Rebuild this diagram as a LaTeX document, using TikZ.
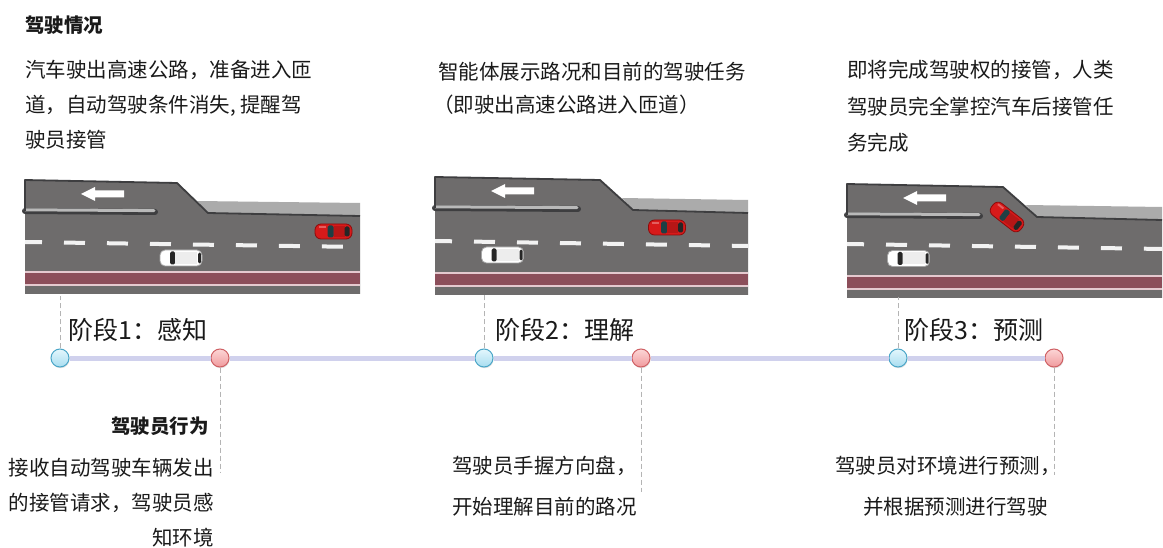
\documentclass[tikz,border=0pt]{standalone}
\usepackage{fontspec}
\setmainfont{Noto Sans CJK SC}
\usetikzlibrary{shadows}

\definecolor{roadgray}{HTML}{6E6C6C}
\definecolor{rampedge}{HTML}{3E3E40}
\definecolor{shoulder}{HTML}{ABABAB}
\definecolor{maroonband}{HTML}{8C4E5A}
\definecolor{pinkline}{HTML}{E5C9CF}
\definecolor{lanewhite}{HTML}{F2F2F2}
\definecolor{goregray}{HTML}{B9B9B9}
\definecolor{carred}{HTML}{D71A1A}
\definecolor{carreddark}{HTML}{8E0A0A}
\definecolor{glass}{HTML}{1E3F44}
\definecolor{tlcolor}{HTML}{D0D1ED}
\definecolor{bluering}{HTML}{4AA6C8}
\definecolor{bluetop}{HTML}{E4F7FD}
\definecolor{bluebot}{HTML}{A8DDF0}
\definecolor{redring}{HTML}{CF6064}
\definecolor{redtop}{HTML}{FCD6D6}
\definecolor{redbot}{HTML}{F09A9D}
\definecolor{guide}{HTML}{B4B4B4}
\definecolor{textcol}{HTML}{1A1A1A}

\newcommand\txtbody{\fontsize{20.5pt}{24pt}\selectfont}
\newcommand\txtbold{\fontsize{19.5pt}{24pt}\selectfont\bfseries}
\newcommand\txtstage{\fontsize{25pt}{30pt}\selectfont}

% road panel: left, right, ramp top y, ramp corner x, diagonal end x,
% main edge y, gore end x, lane line y, band top y
\newcommand\roadpanel[9]{%
  \fill[shoulder] (#5-11,#6-12) -- (#2,#6-10) -- (#2,#6+3) -- (#5,#6) -- cycle;
  \fill[roadgray] (#1,#3) -- (#4,#3+3) -- (#5,#6) -- (#2,#6+3) -- (#2,#9+22) -- (#1,#9+22) -- cycle;
  \fill[maroonband] (#1,#9) rectangle (#2,#9+13);
  \draw[bandline] (#1,#9) -- (#2,#9);
  \draw[bandline] (#1,#9+13) -- (#2,#9+13);
  \draw[lanedash] (#1,#8-2) -- (#2,#8+3);
  \draw[goredark] (#1,#6-2) -- (#7,#6-1);
  \draw[gorelight] (#1,#6-3.2) -- (#7-1,#6-2.4);
  \draw[rampline] (#1,#6-2) -- (#1,#3) -- (#4,#3+3) -- (#5,#6) -- (#2,#6+3);
  \fill[white] (#1+56,#3+14) -- ++(14,-7) -- ++(0,3.5) -- ++(29,0) -- ++(0,7)
    -- ++(-29,0) -- ++(0,3.5) -- cycle;
}

\tikzset{
  bandline/.style={pinkline, line width=1.6pt},
  lanedash/.style={lanewhite, line width=4pt, dash pattern=on 21pt off 22pt, dash phase=4pt},
  goredark/.style={rampedge, line width=6pt, line cap=round},
  gorelight/.style={goregray, line width=3pt, line cap=round},
  rampline/.style={rampedge, line width=1.8pt, line join=round},
  desc/.style={font=\txtbody, text=textcol, inner sep=0pt},
  heading/.style={font=\txtbold, text=textcol, inner sep=0pt},
  stagetext/.style={font=\txtstage, text=textcol, inner sep=0pt, anchor=base west},
  tline/.style={tlcolor, line width=5pt},
  guideline/.style={guide, line width=1pt, dash pattern=on 5pt off 3pt},
  dotshadow/.style={drop shadow={opacity=0.25, shadow xshift=0.6pt, shadow yshift=-1.2pt}},
  bdot/.style={circle, minimum size=18pt, inner sep=0pt, draw=bluering, line width=1pt,
    top color=bluetop, bottom color=bluebot, dotshadow},
  rdot/.style={circle, minimum size=18pt, inner sep=0pt, draw=redring, line width=1pt,
    top color=redtop, bottom color=redbot, dotshadow},
  redcar/.pic={
    \filldraw[fill=carred, draw=carreddark, line width=0.8pt, rounded corners=6pt]
      (-18.5,-7.5) rectangle (18.5,7.5);
    \fill[glass, rounded corners=1.5pt] (-6,-6) rectangle (0,6);
    \fill[carred!85!black] (0,-5.5) rectangle (11,5.5);
    \fill[black!85, rounded corners=1.5pt] (11,-5) rectangle (16,5);
    \fill[white, opacity=0.3] (-15,-5.5) rectangle (-8,-3.5);
  },
  whitecar/.pic={
    \filldraw[fill=white, draw=black!35, line width=0.8pt, rounded corners=5pt]
      (-21,-8) rectangle (21,8);
    \fill[black!85, rounded corners=1.5pt] (-11,-6.5) rectangle (-6,6.5);
    \fill[black!7] (-6,-6) rectangle (16,6);
    \fill[black!85, rounded corners=1.5pt] (17,-5.5) rectangle (20,5.5);
  }
}

\begin{document}
\begin{tikzpicture}[x=1pt, y=-1pt]
\fill[white] (0,0) rectangle (1163,548);
\useasboundingbox (0,0) rectangle (1163,548);

% three road scenes
\roadpanel{25}{360}{180}{177}{208}{213}{155}{244}{272}
\pic at (181,258) {whitecar};
\pic at (333.5,231.5) {redcar};

\roadpanel{435}{748}{177}{600}{633}{210}{578}{243}{273}
\pic at (502.5,255) {whitecar};
\pic at (667,227.5) {redcar};

\roadpanel{847}{1162}{184}{1003}{1037}{217}{980}{246}{276}
\pic at (908.5,258.5) {whitecar};
\pic[rotate=-38] at (1007,217) {redcar};

% driving situation texts
\node[heading, anchor=base west] (title) at (25,32.5) {驾驶情况};
\node[desc, anchor=base west] (s1a) at (25,78) {汽车驶出高速公路，准备进入匝};
\node[desc, anchor=base west] (s1b) at (25,113) {道，自动驾驶条件消失, 提醒驾};
\node[desc, anchor=base west] (s1c) at (25,148) {驶员接管};

\node[desc, anchor=base west] (s2a) at (438,80) {智能体展示路况和目前的驾驶任务};
\node[desc, anchor=base west] (s2b) at (433,113) {（即驶出高速公路进入匝道）};

\node[desc, anchor=base west] (s3a) at (847,78) {即将完成驾驶权的接管，人类};
\node[desc, anchor=base west] (s3b) at (847,115) {驾驶员完全掌控汽车后接管任};
\node[desc, anchor=base west] (s3c) at (847,151) {务完成};

% stage titles
\node[stagetext] (st1) at (68,339) {阶段1：感知};
\node[stagetext] (st2) at (495,339) {阶段2：理解};
\node[stagetext] (st3) at (904,339) {阶段3：预测};

% timeline markers
\node[bdot] (b1) at (60,358) {};
\node[rdot] (r1) at (220,358) {};
\node[bdot] (b2) at (484,358) {};
\node[rdot] (r2) at (641,358) {};
\node[bdot] (b3) at (898,358) {};
\node[rdot] (r3) at (1054,358) {};
\draw[tline] (b1) -- (r1) -- (b2) -- (r2) -- (b3) -- (r3);

% guide lines
\coordinate (u1) at (60,296);
\coordinate (u2) at (484,295);
\coordinate (u3) at (898,297);
\coordinate (d1) at (220,472);
\coordinate (d2) at (641,492);
\coordinate (d3) at (1054,475);
\draw[guideline] (b1.north) -- (u1);
\draw[guideline] (b2.north) -- (u2);
\draw[guideline] (b3.north) -- (u3);
\draw[guideline] (r1.south) -- (d1);
\draw[guideline] (r2.south) -- (d2);
\draw[guideline] (r3.south) -- (d3);

% driver behaviour texts
\node[heading, anchor=base east] (bh) at (209,433) {驾驶员行为};
\node[desc, anchor=base east] (d1a) at (214,475) {接收自动驾驶车辆发出};
\node[desc, anchor=base east] (d1b) at (214,510) {的接管请求，驾驶员感};
\node[desc, anchor=base east] (d1c) at (214,545) {知环境};

\node[desc, anchor=base west] (d2a) at (452,473) {驾驶员手握方向盘，};
\node[desc, anchor=base west] (d2b) at (452,514) {开始理解目前的路况};

\node[desc, anchor=base west] (d3a) at (835,473) {驾驶员对环境进行预测，};
\node[desc, anchor=base west] (d3b) at (863,514) {并根据预测进行驾驶};
\end{tikzpicture}
\end{document}
